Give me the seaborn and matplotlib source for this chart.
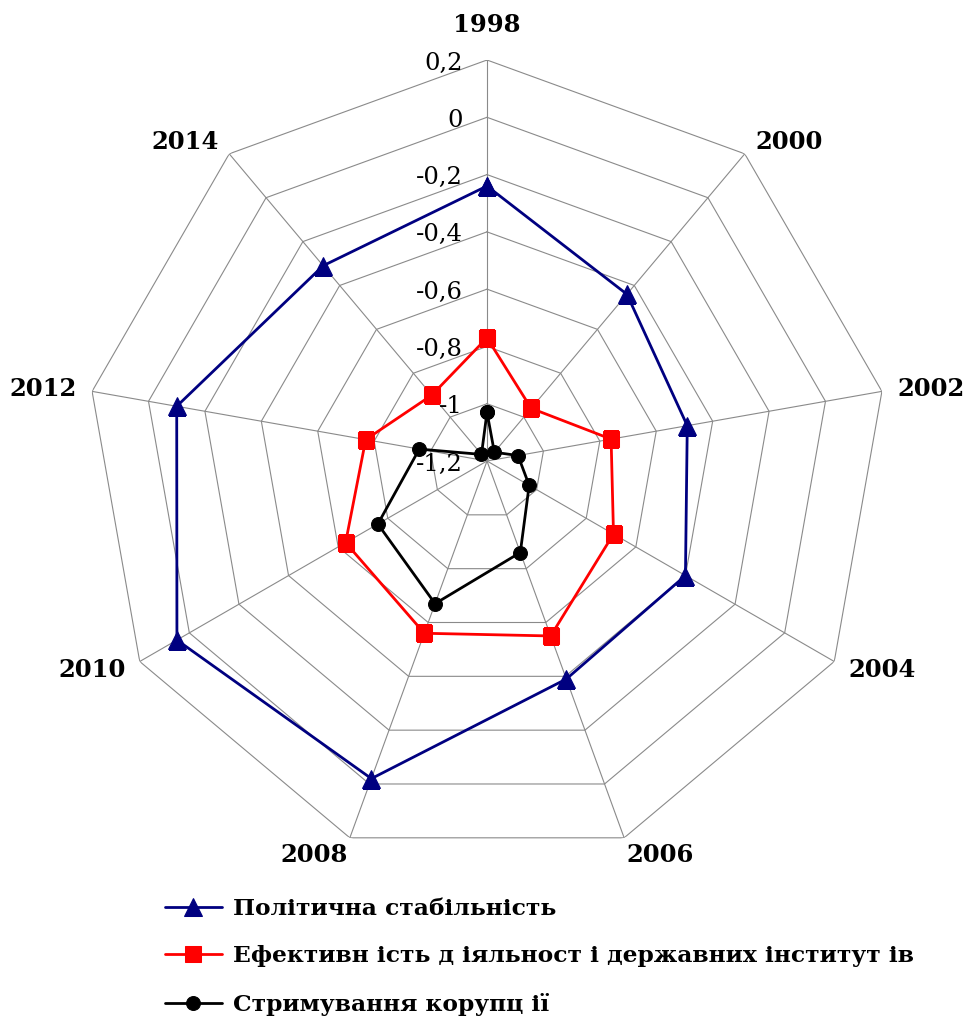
import numpy as np
import pandas as pd
import matplotlib
matplotlib.use("Agg")
import matplotlib.pyplot as plt
import seaborn as sns

# ---- data ----
years = ["1998", "2000", "2002", "2004", "2006", "2008", "2010", "2012", "2014"]
political_stability = [-0.24, -0.44, -0.49, -0.40, -0.39, -0.02, 0.05, -0.10, -0.31]
gov_effectiveness = [-0.77, -0.96, -0.76, -0.69, -0.55, -0.56, -0.63, -0.77, -0.90]
corruption_control = [-1.03, -1.16, -1.09, -1.03, -0.86, -0.67, -0.76, -0.96, -1.17]
series_names = [
    "Політична стабільність",
    "Ефективн ість д іяльност і державних інститут ів",
    "Стримування корупц ії",
]
radial_ticks = [-1.2, -1.0, -0.8, -0.6, -0.4, -0.2, 0.0, 0.2]
radial_labels = ["-1,2", "-1", "-0,8", "-0,6", "-0,4", "-0,2", "0", "0,2"]

sns.set_style("white")
plt.rcParams["font.family"] = ["DejaVu Serif"]
plt.rcParams["text.color"] = "black"

fig = plt.figure(figsize=(9.68, 10.19), dpi=100)
ax = fig.add_axes([0.08884, 0.15407, 0.82851, 0.78704], projection="polar")

n = len(years)
angles = np.arange(n) * 2 * np.pi / n
closed = np.append(angles, 2 * np.pi)
rmin, rmax = radial_ticks[0], radial_ticks[-1]

grid_kw = dict(color="#8a8a8a", lw=0.8, zorder=1)
for level in radial_ticks[1:]:
    ax.plot(closed, [level] * (n + 1), **grid_kw)
for a in angles:
    ax.plot([a, a], [rmin, rmax], **grid_kw)

styles = [
    (political_stability, "#000080", "^", 13),
    (gov_effectiveness, "#FF0000", "s", 11.5),
    (corruption_control, "#000000", "o", 10),
]
for name, (vals, color, marker, ms) in zip(series_names, styles):
    df = pd.DataFrame({"theta": closed, "value": list(vals) + [vals[0]]})
    sns.lineplot(data=df, x="theta", y="value", ax=ax, sort=False, estimator=None,
                 color=color, marker=marker, markersize=ms,
                 markeredgecolor=color, markerfacecolor=color,
                 lw=2, label=name, legend=False, zorder=3)

ax.set_theta_zero_location("N")
ax.set_theta_direction(-1)
ax.set_ylim(rmin, rmax)
ax.set_xticks([])
ax.set_yticks([])
ax.grid(False)
ax.spines["polar"].set_visible(False)
ax.set_xlabel("")
ax.set_ylabel("")

# category labels
for a, lab in zip(angles, years):
    s, c = np.sin(a), np.cos(a)
    ha = "left" if s > 0.2 else ("right" if s < -0.2 else "center")
    if c > 0.9:
        va, d = "bottom", 23
    elif c < -0.9:
        va, d = "top", 6
    else:
        va, d = "center", 16
    ax.annotate(lab, xy=(a, rmax), xytext=(d * s, d * c), textcoords="offset pixels",
                ha=ha, va=va, fontsize=17.5, fontweight="bold", annotation_clip=False)

# radial tick labels
for level, lab in zip(radial_ticks, radial_labels):
    ax.annotate(lab, xy=(0, level), xytext=(-24, -3), textcoords="offset pixels",
                ha="right", va="center", fontsize=17.5, annotation_clip=False, zorder=2)

handles, labels = ax.get_legend_handles_labels()
fig.legend(handles, labels, loc="upper left", bbox_to_anchor=(0.17, 0.119),
           frameon=False, prop={"weight": "bold", "size": 16.8},
           handlelength=2.45, handletextpad=0.5, labelspacing=1.1,
           borderpad=0, borderaxespad=0)

fig.savefig("out.png", dpi=100)
